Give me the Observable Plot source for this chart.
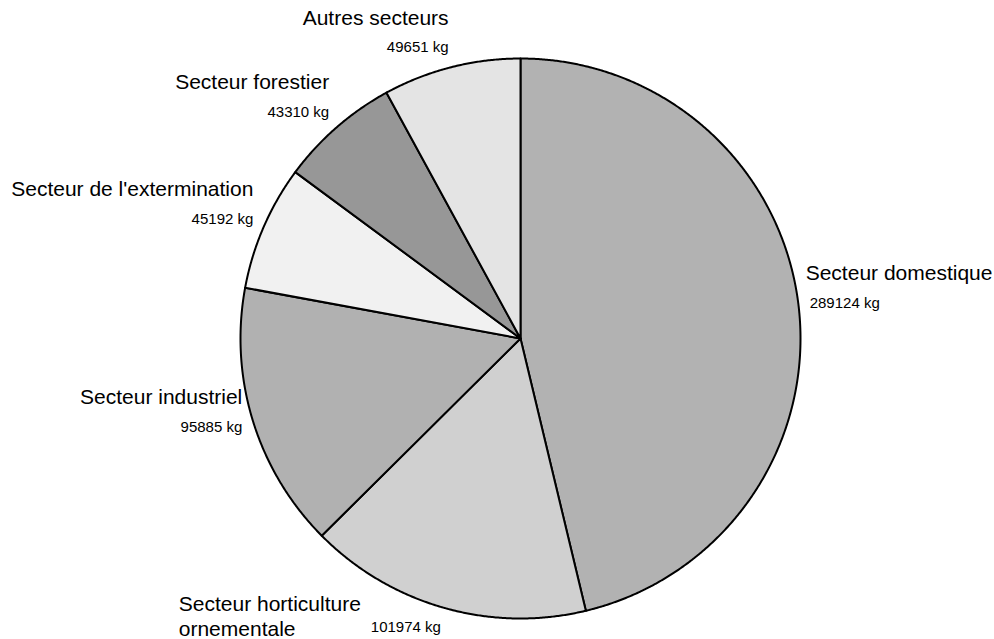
<!DOCTYPE html>
<html>
<head>
<meta charset="utf-8">
<script src="https://cdn.jsdelivr.net/npm/d3@7"></script>
<script src="https://cdn.jsdelivr.net/npm/@observablehq/plot@0.6"></script>
<style>
  html, body { margin: 0; padding: 0; background: #ffffff; }
  #chart svg { display: block; }
</style>
</head>
<body>
<div id="chart"></div>
<script>
// ---- Data ----
const categories = [
  "Secteur domestique",
  "Secteur horticulture ornementale",
  "Secteur industriel",
  "Secteur de l'extermination",
  "Secteur forestier",
  "Autres secteurs"
];
const values = [289124, 101974, 95885, 45192, 43310, 49651];
const labels = [
  "Secteur domestique",
  "Secteur horticulture\nornementale",
  "Secteur industriel",
  "Secteur de l'extermination",
  "Secteur forestier",
  "Autres secteurs"
];
const unit = "kg";

// ---- Layout ----
const W = 994, H = 639;
const cx = 520, cy = 338, R = 280;
const grays = ["#b2b2b2", "#d0d0d0", "#b1b1b1", "#f1f1f1", "#979797", "#e4e4e4"];
const font = "'Liberation Sans', Arial, Helvetica, sans-serif";
const nameSize = 21, valueSize = 15;

const arcs = d3.pie().sort(null).value(d => d.value)
  (categories.map((name, i) => ({name, value: values[i], label: labels[i]})));

// slice polygons (unit radius, angle clockwise from 12 o'clock)
const pts = [];
for (const a of arcs) {
  const n = Math.max(2, Math.ceil((a.endAngle - a.startAngle) / 0.005) + 1);
  pts.push({name: a.data.name, x: 0, y: 0});
  for (let k = 0; k < n; k++) {
    const t = a.startAngle + (a.endAngle - a.startAngle) * k / (n - 1);
    pts.push({name: a.data.name, x: Math.sin(t), y: Math.cos(t)});
  }
}

// text width helper
const ctx = document.createElement("canvas").getContext("2d");
function textWidth(s, size) { ctx.font = `${size}px ${font}`; return ctx.measureText(s).width; }

// labels
const valueLabels = [], nameLabels = [];
for (const a of arcs) {
  const mid = (a.startAngle + a.endAngle) / 2;
  const s = Math.sin(mid), c = Math.cos(mid);
  const side = s < 0 ? "left" : "right";
  const vx = 1.04 * s;
  const vy = 1.04 * c + 9 * c / R;
  const vtext = `${a.data.value} ${unit}`;
  valueLabels.push({x: vx, y: vy, text: vtext, side});
  if (c < -0.9) {
    // bottom slice: multi-line name sits to the left of the value, left-aligned
    const w = textWidth(vtext, valueSize);
    const nw = d3.max(a.data.label.split("\n"), l => textWidth(l, nameSize));
    nameLabels.push({x: vx - (w + 10 + nw) / R, y: vy + 12 / R, text: a.data.label, side: "right"});
  } else {
    nameLabels.push({x: vx + (side === "right" ? -4 : 0) / R, y: vy + 31 / R, text: a.data.label, side});
  }
}

const plot = Plot.plot({
  width: W,
  height: H,
  margin: 0,
  x: {domain: [(0 - cx) / R, (W - cx) / R], range: [0, W], axis: null},
  y: {domain: [(cy - H) / R, cy / R], range: [H, 0], axis: null},
  color: {type: "ordinal", domain: categories, range: grays},
  style: {background: "#ffffff", fontFamily: font},
  marks: [
    Plot.line(pts, {
      x: "x", y: "y", z: "name", fill: "name",
      stroke: "#000000", strokeWidth: 2, strokeLinejoin: "round",
      curve: "linear-closed"
    }),
    Plot.text(valueLabels.filter(d => d.side === "left"), {
      x: "x", y: "y", text: "text", textAnchor: "end",
      fontSize: valueSize, fill: "#000000"
    }),
    Plot.text(valueLabels.filter(d => d.side === "right"), {
      x: "x", y: "y", text: "text", textAnchor: "start",
      fontSize: valueSize, fill: "#000000"
    }),
    Plot.text(nameLabels.filter(d => d.side === "left"), {
      x: "x", y: "y", text: "text", textAnchor: "end", lineHeight: 1.2,
      fontSize: nameSize, fill: "#000000"
    }),
    Plot.text(nameLabels.filter(d => d.side === "right"), {
      x: "x", y: "y", text: "text", textAnchor: "start", lineHeight: 1.2,
      fontSize: nameSize, fill: "#000000"
    })
  ]
});
document.getElementById("chart").appendChild(plot);
</script>
</body>
</html>
